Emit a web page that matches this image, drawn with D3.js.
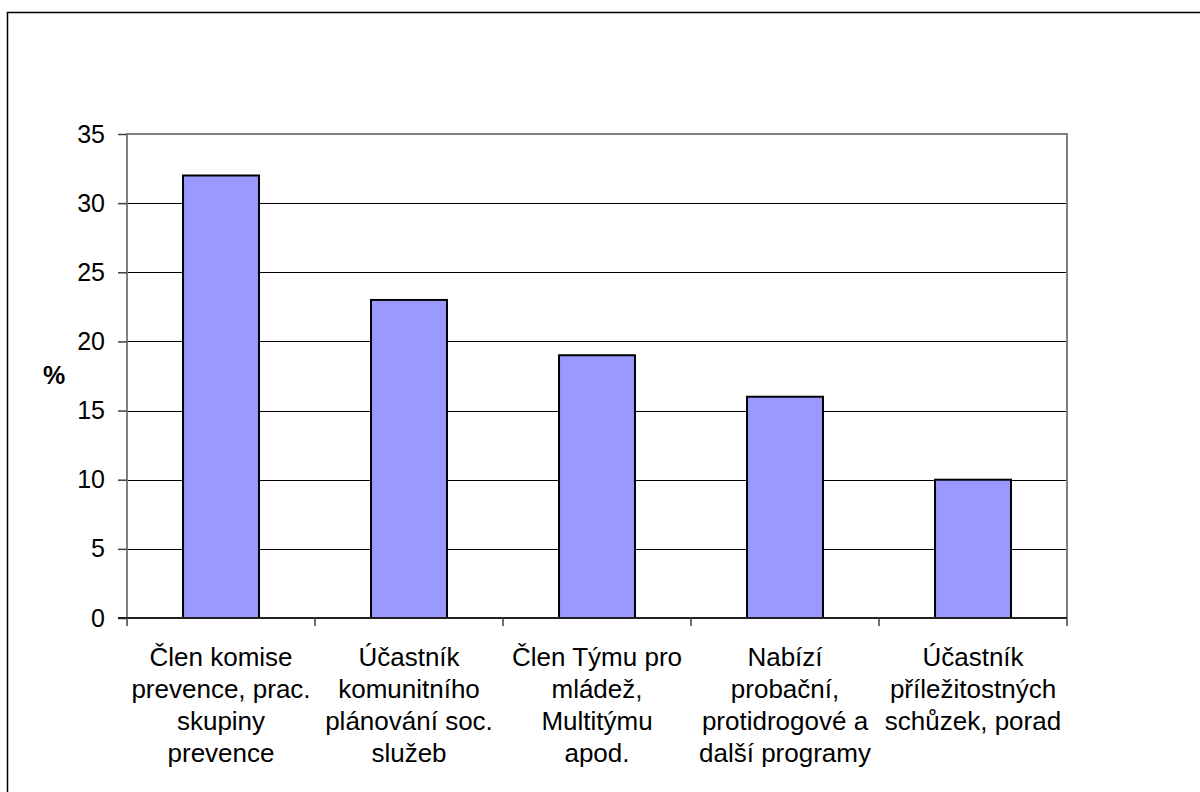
<!DOCTYPE html>
<html>
<head>
<meta charset="utf-8">
<script src="https://cdn.jsdelivr.net/npm/d3@7"></script>
<style>
  body { margin: 0; background: #fff; }
  svg text { font-family: "Liberation Sans", Arial, sans-serif; fill: #000; }
</style>
</head>
<body>
<svg id="chart" width="1200" height="792"></svg>
<script>
var categories = [
  ["Člen komise", "prevence, prac.", "skupiny", "prevence"],
  ["Účastník", "komunitního", "plánování soc.", "služeb"],
  ["Člen Týmu pro", "mládež,", "Multitýmu", "apod."],
  ["Nabízí", "probační,", "protidrogové a", "další programy"],
  ["Účastník", "příležitostných", "schůzek, porad"]
];
var values = [32, 23, 19, 16, 10];
var yTicks = [0, 5, 10, 15, 20, 25, 30, 35];

var plot = { left: 127, top: 134, right: 1067, bottom: 618 };

var svg = d3.select('#chart');

// outer frame (only top + left visible in the picture)
svg.append('rect')
   .attr('x', 7.5).attr('y', 12.5)
   .attr('width', 1200).attr('height', 800)
   .attr('fill', 'none')
   .attr('stroke', '#000')
   .attr('stroke-width', 1.5);

var xScale = d3.scaleBand()
               .domain(d3.range(values.length))
               .range([plot.left, plot.right])
               .padding(0);
var yScale = d3.scaleLinear()
               .domain([0, 35])
               .range([plot.bottom, plot.top]);

// gridlines
svg.append('g').selectAll('line')
   .data(yTicks.filter(function(d){ return d > 0 && d < 35; }))
   .enter().append('line')
   .attr('x1', plot.left).attr('x2', plot.right)
   .attr('y1', function(d){ return Math.round(yScale(d)) + 0.5; })
   .attr('y2', function(d){ return Math.round(yScale(d)) + 0.5; })
   .attr('stroke', '#000').attr('stroke-width', 1);

// plot border (grey)
svg.append('path')
   .attr('d', 'M' + plot.left + ',' + plot.bottom + 'V' + plot.top + 'H' + plot.right + 'V' + plot.bottom)
   .attr('fill', 'none')
   .attr('stroke', '#808080')
   .attr('stroke-width', 2);

// bars
var barW = xScale.bandwidth() * 0.404;
svg.append('g').selectAll('rect')
   .data(values)
   .enter().append('rect')
   .attr('x', function(d, i){ return xScale(i) + (xScale.bandwidth() - barW) / 2; })
   .attr('y', function(d){ return yScale(d); })
   .attr('width', barW)
   .attr('height', function(d){ return yScale(0) - yScale(d); })
   .attr('fill', '#9999FF')
   .attr('stroke', '#000')
   .attr('stroke-width', 2);

// y axis
var yAxis = d3.axisLeft(yScale)
              .tickValues(yTicks)
              .tickSize(9)
              .tickPadding(13);
var yg = svg.append('g')
   .attr('transform', 'translate(' + plot.left + ',0)')
   .call(yAxis);
yg.attr('font-size', null).attr('font-family', null);
yg.select('.domain').remove();
yg.selectAll('line').attr('stroke', '#404040').attr('stroke-width', 1.5);
yg.selectAll('text').style('font-size', '25px');

// x axis line + ticks between categories
var xg = svg.append('g');
xg.append('line')
  .attr('x1', plot.left - 9).attr('x2', plot.right)
  .attr('y1', plot.bottom).attr('y2', plot.bottom)
  .attr('stroke', '#202020').attr('stroke-width', 2);
xg.selectAll('.xt')
  .data(d3.range(values.length + 1))
  .enter().append('line')
  .attr('class', 'xt')
  .attr('x1', function(i){ return i < values.length ? xScale(i) : plot.right; })
  .attr('x2', function(i){ return i < values.length ? xScale(i) : plot.right; })
  .attr('y1', plot.bottom).attr('y2', plot.bottom + 8)
  .attr('stroke', '#404040').attr('stroke-width', 1.5);

// category labels
var labels = svg.append('g').selectAll('text')
   .data(categories)
   .enter().append('text')
   .attr('text-anchor', 'middle')
   .style('font-size', '26px')
   .attr('x', function(d, i){ return xScale(i) + xScale.bandwidth() / 2; })
   .attr('y', 666);
labels.selectAll('tspan')
   .data(function(d){ return d; })
   .enter().append('tspan')
   .attr('x', function(){ return d3.select(this.parentNode).attr('x'); })
   .attr('dy', function(d, j){ return j === 0 ? 0 : 32; })
   .text(function(d){ return d; });

// y title
svg.append('text')
   .attr('x', 54).attr('y', 384)
   .attr('text-anchor', 'middle')
   .style('font-size', '25px')
   .attr('font-weight', 'bold')
   .text('%');
</script>
</body>
</html>
